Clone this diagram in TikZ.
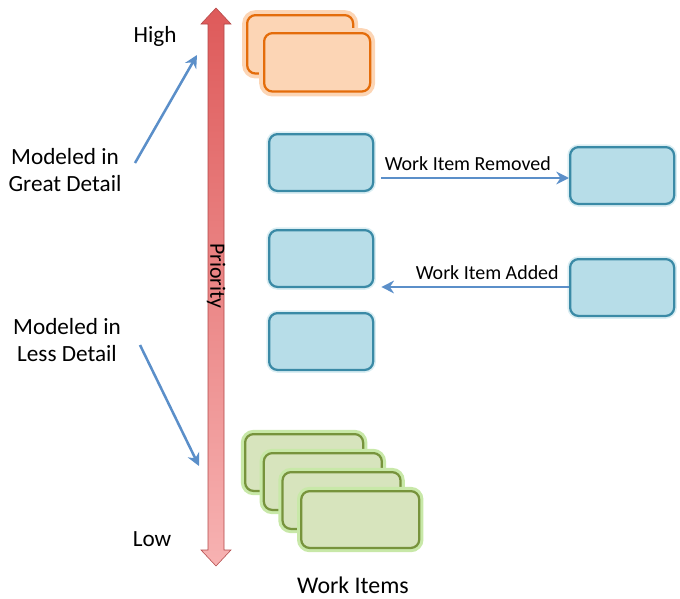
\documentclass[tikz,border=0pt]{standalone}
\usepackage{fontspec}
\setmainfont{Carlito}
\usetikzlibrary{arrows.meta}
\definecolor{bluefill}{HTML}{B7DDE8}
\definecolor{blueline}{HTML}{3A8AA6}
\definecolor{greenfill}{HTML}{D7E4BD}
\definecolor{greenline}{HTML}{77933C}
\definecolor{greenglow}{HTML}{C8E8A8}
\definecolor{orangefill}{HTML}{FCD5B5}
\definecolor{orangeline}{HTML}{E46C0A}
\definecolor{arrowblue}{HTML}{5B8FC9}
\definecolor{prioTop}{HTML}{DE5A5A}
\definecolor{prioBot}{HTML}{F7B2B2}

\begin{document}
\begin{tikzpicture}[x=0.025cm,y=-0.025cm,
    item/.style={rounded corners=6pt,line width=1.6pt,anchor=north west,inner sep=0pt},
    blueitem/.style={item,draw=blueline,fill=bluefill,minimum width=2.6cm,minimum height=1.42cm,
        preaction={draw=bluefill!50,line width=4pt}},
    greenitem/.style={item,draw=greenline,fill=greenfill,minimum width=2.95cm,minimum height=1.42cm,
        preaction={draw=greenglow,line width=6pt}},
    orangeitem/.style={item,draw=orangeline,fill=orangefill,minimum width=2.65cm,minimum height=1.46cm,
        preaction={draw=orangefill,line width=7pt}},
    move/.style={arrowblue,line width=1.8pt,-{Stealth[length=9pt,width=9pt]}},
    lbl/.style={font=\fontsize{16.5}{19.5}\selectfont,align=center},
    movelbl/.style={font=\fontsize{14.2}{16}\selectfont}]
    \useasboundingbox (0,0) rectangle (680,599);
    % priority axis
    \shade[top color=prioTop,bottom color=prioBot,draw=prioTop!80!black,line width=0.4pt]
        (216,8)--(231,24)--(224,24)--(224,550)--(231,550)--(216,566)--(201,550)--(208,550)--(208,24)--(201,24)--cycle;
    \node[rotate=-90,font=\fontsize{15.5}{17}\selectfont] (prio) at (216,276) {Priority};
    \node[lbl] (high) at (155,36) {High};
    \node[lbl] (low) at (152,539) {Low};
    \node[lbl] (great) at (65,170) {Modeled in\\Great Detail};
    \node[lbl] (less) at (67,340) {Modeled in\\Less Detail};
    \coordinate (greatfrom) at (135,163);
    \coordinate (greattip) at (197,55);
    \coordinate (lessfrom) at (140,345);
    \coordinate (lesstip) at (199,466);
    \draw[move] (greatfrom) -- (greattip);
    \draw[move] (lessfrom) -- (lesstip);
    % high priority items
    \node[orangeitem] (hi1) at (246,14) {};
    \node[orangeitem] (hi2) at (263,32) {};
    % work items
    \node[blueitem] (w1) at (268,133) {};
    \node[blueitem] (w2) at (268,229) {};
    \node[blueitem] (w3) at (268,312) {};
    \node[blueitem] (removed) at (569,146) {};
    \node[blueitem] (added) at (569,258) {};
    \draw[move,shorten <=5pt] (w1.east |- 0,178) -- (removed.west |- 0,178)
        node[pos=0.48,above,black,movelbl,yshift=1pt] {Work Item Removed};
    \draw[move,shorten >=5pt] (added.west |- 0,287) -- (w2.east |- 0,287)
        node[pos=0.42,above,black,movelbl,yshift=1pt] {Work Item Added};
    % low priority items
    \foreach \i in {0,...,3}{
        \node[greenitem] (lo\i) at (244+18.7*\i,433+19*\i) {};
    }
    \node[font=\fontsize{17}{19}\selectfont,inner sep=1pt] (items) at (353,585) {Work Items};
\end{tikzpicture}
\end{document}
